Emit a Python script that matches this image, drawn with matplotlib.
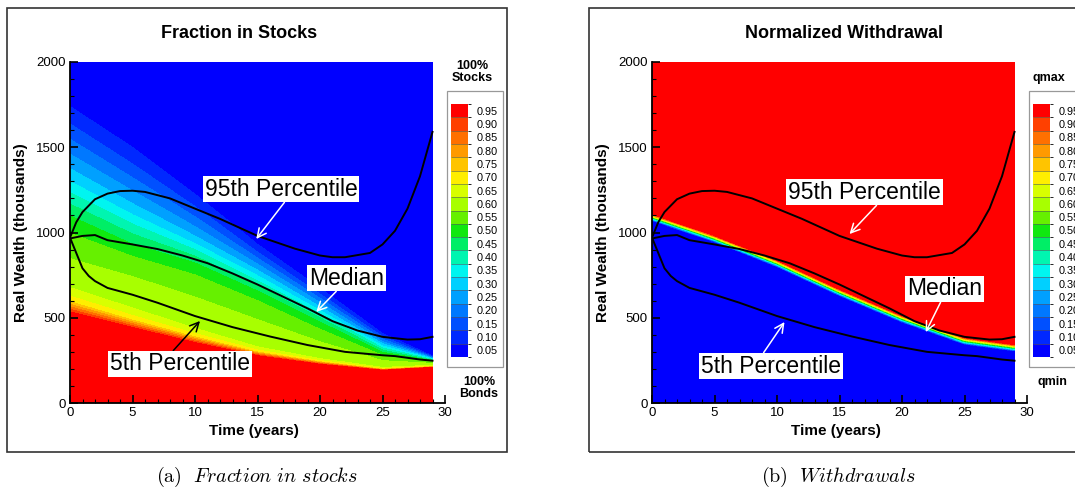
import numpy as np
import matplotlib

matplotlib.use("Agg")
import matplotlib.pyplot as plt
from matplotlib.cm import ScalarMappable
from matplotlib.colors import BoundaryNorm, ListedColormap
from matplotlib.patches import Rectangle
from matplotlib.ticker import MultipleLocator

plt.rcParams["font.family"] = ["Liberation Sans", "DejaVu Sans"]
plt.rcParams["mathtext.fontset"] = "cm"

# legend levels (same for both panels), one colour band per level
levels = [0.05, 0.10, 0.15, 0.20, 0.25, 0.30, 0.35, 0.40, 0.45, 0.50,
          0.55, 0.60, 0.65, 0.70, 0.75, 0.80, 0.85, 0.90, 0.95]
band_colors = ["#0000ff", "#0028ff", "#0050ff", "#0078ff", "#00a0ff",
               "#00d0ff", "#00f5f0", "#00f5b0", "#00ee66", "#10e810",
               "#66f000", "#a8ff00", "#d8ff00", "#ffee00", "#ffc400",
               "#ff9a00", "#ff7000", "#ff4000", "#ff0000"]

# percentiles of real wealth (thousands) against time (years)
p95_t = [0, 0.5, 1, 2, 3, 4, 5, 6, 8, 10, 12, 15, 18, 20, 21, 22, 24, 25, 26, 27, 28, 29]
p95_w = [970, 1060, 1120, 1195, 1228, 1243, 1245, 1238, 1200, 1140, 1080, 980,
         905, 865, 855, 855, 880, 930, 1010, 1140, 1330, 1590]
med_t = [0, 1, 2, 3, 5, 7, 9, 11, 13, 15, 17, 19, 21, 23, 25, 27, 28, 29]
med_w = [965, 980, 985, 955, 930, 903, 865, 820, 760, 695, 625, 555, 480, 425,
         388, 372, 374, 388]
p05_t = [0, 0.5, 1, 1.5, 2, 3, 4, 5, 7, 10, 13, 16, 19, 22, 25, 26, 27, 28, 29]
p05_w = [970, 880, 790, 745, 715, 675, 655, 635, 588, 510, 445, 390, 340, 300,
         280, 275, 265, 255, 248]

# fraction in stocks: wealth where each fraction is reached, at these times
stock_t = [0, 5, 10, 15, 20, 25, 29]
stock_frac = [1.00, 0.70, 0.62, 0.56, 0.50, 0.40, 0.30, 0.20, 0.10, 0.03, 0.00]
stock_w = [
    [510, 425, 340, 268, 220, 188, 205],
    [600, 490, 390, 300, 242, 198, 213],
    [680, 560, 440, 330, 260, 208, 220],
    [900, 800, 680, 540, 390, 260, 235],
    [1060, 900, 800, 640, 460, 290, 245],
    [1200, 1020, 880, 700, 510, 315, 252],
    [1330, 1130, 950, 760, 550, 340, 258],
    [1500, 1280, 1060, 830, 600, 365, 265],
    [1680, 1440, 1180, 900, 650, 395, 272],
    [1840, 1600, 1300, 980, 710, 425, 280],
    [1950, 1700, 1400, 1060, 770, 455, 290],
]

# normalized withdrawal: edges of the switch from qmin (below) to qmax (above)
wd_t = [0, 5, 10, 15, 20, 25, 29]
wd_frac = [0.0, 1.0]
wd_w = [
    [1068, 943, 798, 628, 473, 343, 303],
    [1112, 987, 842, 672, 517, 387, 347],
]

W, H = 1075, 487


def fig_box(x0, y0, x1, y1):
    """Pixel box (top-left origin) to figure-fraction rect."""
    return [x0 / W, 1 - y1 / H, (x1 - x0) / W, (y1 - y0) / H]


def build_field(times, fracs, w_lines, tt, ww):
    lines = np.array([np.interp(tt, times, w) for w in w_lines])
    field = np.empty((len(ww), len(tt)))
    for j in range(len(tt)):
        field[:, j] = np.interp(ww, lines[:, j], fracs)
    return field


def panel(fig, x_off, title, title_x, field, notes, top_label, bottom_label, caption):
    ax = fig.add_axes(fig_box(70 + x_off, 62, 445 + x_off, 403))
    tt = np.linspace(0, 29, 400)
    ww = np.linspace(0, 2000, 800)
    z = build_field(*field, tt, ww)

    bounds = [l - 0.025 for l in levels] + [0.975]
    cs = ax.contourf(tt, ww, z, levels=[-0.5] + bounds + [1.5],
                     colors=[band_colors[0]] + band_colors + [band_colors[-1]])
    cs.set_edgecolor("face")
    cs.set_linewidth(0.3)

    for t, w in [(p95_t, p95_w), (med_t, med_w), (p05_t, p05_w)]:
        ax.plot(t, w, color="k", lw=1.4)

    for text, xy, xytext, rel, col in notes:
        ax.annotate(text, xy=xy, xytext=xytext, ha="center", va="center", fontsize=16.5,
                    bbox=dict(boxstyle="square,pad=0.08", fc="white", ec="none"),
                    arrowprops=dict(arrowstyle="->", color=col, lw=1.1, relpos=rel,
                                    shrinkA=0, shrinkB=0, mutation_scale=16))

    ax.set_xlim(0, 30)
    ax.set_ylim(0, 2000)
    for s in ("top", "right"):
        ax.spines[s].set_visible(False)
    for s in ("left", "bottom"):
        ax.spines[s].set_linewidth(1.3)
    ax.xaxis.set_major_locator(MultipleLocator(5))
    ax.xaxis.set_minor_locator(MultipleLocator(1))
    ax.yaxis.set_major_locator(MultipleLocator(500))
    ax.yaxis.set_minor_locator(MultipleLocator(100))
    ax.tick_params(which="both", direction="in", labelsize=9.5, pad=3)
    ax.tick_params(which="major", length=6, width=1.2)
    ax.tick_params(which="minor", length=3, width=0.8)
    ax.set_xlabel("Time (years)", fontsize=11, fontweight="bold")
    ax.set_ylabel("Real Wealth (thousands)", fontsize=11, fontweight="bold")
    ax.xaxis.set_label_coords(0.49, -0.062)
    ax.yaxis.set_label_coords(-0.112, 0.5)

    fig.text((title_x + x_off) / W, 1 - 33 / H, title, ha="center", va="center",
             fontsize=13, fontweight="bold")

    # legend
    cax = fig.add_axes(fig_box(451 + x_off, 104, 468 + x_off, 357))
    sm = ScalarMappable(norm=BoundaryNorm(bounds, len(levels)),
                        cmap=ListedColormap(band_colors))
    cb = fig.colorbar(sm, cax=cax, ticks=levels, drawedges=True)
    cb.outline.set_visible(False)
    cb.dividers.set_color("#555555")
    cb.dividers.set_linewidth(0.4)
    cax.tick_params(length=0, labelsize=7.8, pad=6.5)
    cax.set_yticklabels([f"{v:.2f}" for v in levels])
    fig.add_artist(Rectangle((447 / W + x_off / W, 1 - 367 / H), 56 / W, 276 / H,
                             transform=fig.transFigure, fill=False, ec="#999999", lw=0.9))
    fig.text((top_label[1] + x_off) / W, 1 - top_label[2] / H, top_label[0], ha="center",
             va="center", fontsize=9, fontweight="bold", linespacing=0.95)
    fig.text((bottom_label[1] + x_off) / W, 1 - bottom_label[2] / H, bottom_label[0],
             ha="center", va="center", fontsize=9, fontweight="bold", linespacing=0.95)

    # frame and caption
    fig.add_artist(Rectangle(((7 + x_off) / W, 1 - 452 / H), 500 / W, 444 / H,
                             transform=fig.transFigure, fill=False, ec="#333333", lw=1.2))
    fig.text((257 + x_off) / W, 1 - 477 / H, caption, ha="center", va="center", fontsize=14.5)


fig = plt.figure(figsize=(W / 100, H / 100), dpi=100)

panel(fig, 0, "Fraction in Stocks", 239, (stock_t, stock_frac, stock_w),
      [("95th Percentile", (14.9, 962), (16.9, 1255), (0.53, 0), "white"),
       ("Median", (19.7, 534), (22.1, 733), (0.39, 0), "white"),
       ("5th Percentile", (10.4, 481), (8.8, 229), (0.44, 1), "black")],
      ("100%\nStocks", 472, 72), ("100%\nBonds", 479, 388),
      r"$\mathrm{(a)}\ \ \mathit{Fraction\ in\ stocks}$")

panel(fig, 582, "Normalized Withdrawal", 262, (wd_t, wd_frac, wd_w),
      [("95th Percentile", (15.8, 991), (17.0, 1237), (0.59, 0), "white"),
       ("Median", (21.9, 416), (23.4, 669), (0.46, 0), "white"),
       ("5th Percentile", (10.6, 475), (9.5, 217), (0.44, 1), "white")],
      ("qmax", 467, 78), ("qmin", 470, 382),
      r"$\mathrm{(b)}\ \ \mathit{Withdrawals}$")

fig.savefig("out.png", dpi=100)
